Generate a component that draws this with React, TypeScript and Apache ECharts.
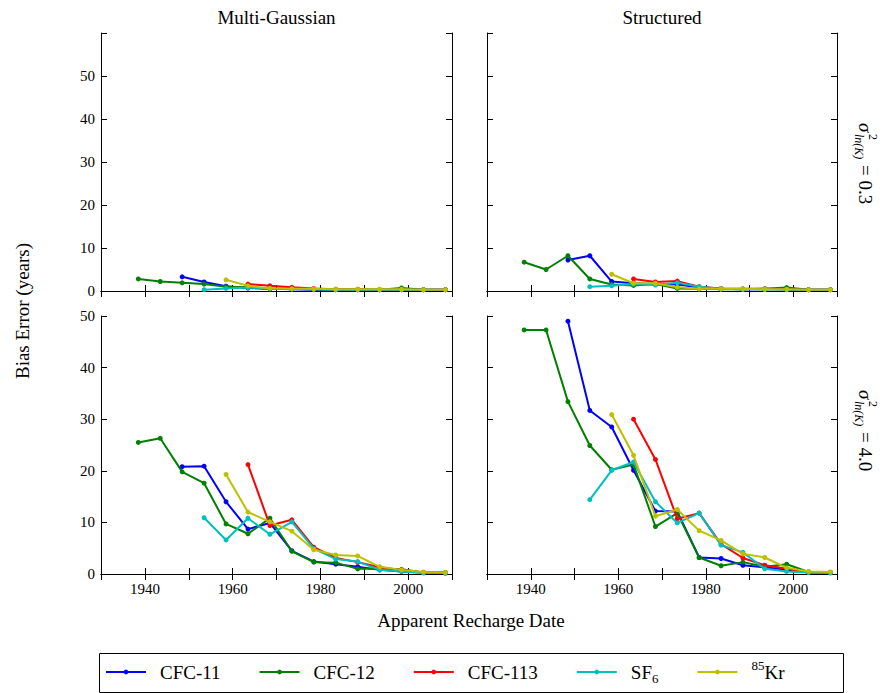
import React, { useEffect, useRef } from "react";
import * as echarts from "echarts";

// Apparent recharge date bins (5-year bin midpoints)
const binYears = [
  1938.5, 1943.5, 1948.5, 1953.5, 1958.5, 1963.5, 1968.5, 1973.5,
  1978.5, 1983.5, 1988.5, 1993.5, 1998.5, 2003.5, 2008.5,
];

const tracerNames = ["CFC-11", "CFC-12", "CFC-113", "SF6", "85Kr"];
const tracerColors = ["#0000ff", "#008000", "#ff0000", "#00bfbf", "#bfbf00"];

const xTickValues = [1940, 1960, 1980, 2000];
const panelTitles = ["Multi-Gaussian", "Structured"];
const varianceLabels = ["0.3", "4.0"];

// Multi-Gaussian field, ln(K) variance 0.3 — bias error (years)
const mgLowCfc11 = [null, null, 3.3, 2.1, 1.1, 0.7, 0.5, 0.4, 0.3, 0.3, 0.3, 0.3, 0.3, 0.3, 0.3];
const mgLowCfc12 = [2.8, 2.2, 1.9, 1.6, 1.0, 0.85, 0.5, 0.5, 0.4, 0.3, 0.3, 0.3, 0.7, 0.3, 0.3];
const mgLowCfc113 = [null, null, null, null, null, 1.6, 1.2, 0.85, 0.6, 0.4, 0.4, 0.3, 0.3, 0.3, 0.3];
const mgLowSf6 = [null, null, null, 0.3, 0.6, 0.8, 0.6, 0.5, 0.4, 0.3, 0.3, 0.3, 0.3, 0.3, 0.3];
const mgLowKr85 = [null, null, null, null, 2.6, 1.2, 0.6, 0.5, 0.5, 0.4, 0.4, 0.4, 0.4, 0.3, 0.3];

// Structured field, ln(K) variance 0.3
const stLowCfc11 = [null, null, 7.2, 8.2, 2.2, 1.8, 1.6, 1.5, 0.85, 0.5, 0.4, 0.4, 0.4, 0.3, 0.3];
const stLowCfc12 = [6.7, 5.0, 8.2, 2.8, 1.5, 1.3, 1.6, 0.6, 0.5, 0.4, 0.4, 0.5, 0.8, 0.3, 0.3];
const stLowCfc113 = [null, null, null, null, null, 2.8, 2.1, 2.3, 1.0, 0.6, 0.5, 0.5, 0.4, 0.3, 0.3];
const stLowSf6 = [null, null, null, 1.0, 1.2, 1.6, 1.4, 1.9, 1.0, 0.5, 0.4, 0.4, 0.3, 0.3, 0.3];
const stLowKr85 = [null, null, null, null, 3.9, 1.8, 1.8, 0.85, 0.5, 0.5, 0.5, 0.4, 0.4, 0.3, 0.3];

// Multi-Gaussian field, ln(K) variance 4.0
const mgHighCfc11 = [null, null, 20.8, 20.9, 14.0, 8.7, 9.9, 4.5, 2.4, 1.9, 1.4, 0.8, 0.5, 0.3, 0.2];
const mgHighCfc12 = [25.5, 26.3, 19.8, 17.6, 9.7, 7.8, 10.8, 4.4, 2.3, 2.2, 1.0, 1.0, 0.9, 0.3, 0.3];
const mgHighCfc113 = [null, null, null, null, null, 21.2, 9.4, 10.5, 5.2, 3.1, 2.3, 1.3, 0.8, 0.3, 0.3];
const mgHighSf6 = [null, null, null, 10.9, 6.6, 10.8, 7.7, 10.1, 4.9, 2.9, 2.4, 0.8, 0.5, 0.2, 0.2];
const mgHighKr85 = [null, null, null, null, 19.3, 12.0, 10.1, 8.3, 4.7, 3.7, 3.5, 1.4, 0.8, 0.4, 0.3];

// Structured field, ln(K) variance 4.0
const stHighCfc11 = [null, null, 49.0, 31.7, 28.5, 20.1, 12.2, 12.1, 3.2, 3.0, 1.7, 1.3, 0.8, 0.3, 0.3];
const stHighCfc12 = [47.3, 47.3, 33.4, 24.9, 20.2, 21.2, 9.2, 11.8, 3.2, 1.6, 2.3, 1.4, 1.9, 0.4, 0.3];
const stHighCfc113 = [null, null, null, null, null, 30.0, 22.2, 10.7, 11.8, 5.8, 3.1, 1.7, 1.0, 0.3, 0.3];
const stHighSf6 = [null, null, null, 14.4, 20.1, 21.7, 14.0, 9.9, 11.8, 5.6, 4.2, 1.0, 0.5, 0.3, 0.2];
const stHighKr85 = [null, null, null, null, 30.9, 23.0, 11.2, 12.5, 8.4, 6.5, 3.9, 3.2, 1.2, 0.5, 0.4];

// Panels in grid order: top-left, top-right, bottom-left, bottom-right
const panelSeries = [
  [mgLowCfc11, mgLowCfc12, mgLowCfc113, mgLowSf6, mgLowKr85],
  [stLowCfc11, stLowCfc12, stLowCfc113, stLowSf6, stLowKr85],
  [mgHighCfc11, mgHighCfc12, mgHighCfc113, mgHighSf6, mgHighKr85],
  [stHighCfc11, stHighCfc12, stHighCfc113, stHighSf6, stHighKr85],
];
const panelYMax = [60, 60, 50, 50];

const FONT = "Liberation Serif";

const gridBoxes = [
  { left: 101, top: 33, width: 351, height: 258 },
  { left: 487, top: 33, width: 350, height: 258 },
  { left: 101, top: 316, width: 351, height: 258 },
  { left: 487, top: 316, width: 350, height: 258 },
];

function buildOption() {
  const tickStyle = { color: "#000", width: 1 };
  const xAxes: any[] = [];
  const yAxes: any[] = [];
  gridBoxes.forEach((_, g) => {
    const showX = g >= 2;
    const showY = g % 2 === 0;
    xAxes.push({
      gridIndex: g,
      type: "value",
      position: "bottom",
      min: 1930,
      max: 2010,
      interval: 10,
      axisLine: { show: true, lineStyle: tickStyle },
      axisTick: { show: true, inside: true, length: 6, lineStyle: tickStyle },
      axisLabel: {
        show: showX,
        fontSize: 15,
        fontFamily: FONT,
        color: "#000",
        margin: 7,
        formatter: (v: number) => (xTickValues.includes(v) ? String(v) : ""),
      },
      splitLine: { show: false },
    });
    yAxes.push({
      gridIndex: g,
      type: "value",
      position: "left",
      min: 0,
      max: panelYMax[g],
      interval: 10,
      axisLine: { show: true, lineStyle: tickStyle },
      axisTick: { show: true, inside: true, length: 6, lineStyle: tickStyle },
      axisLabel: {
        show: showY,
        fontSize: 15,
        fontFamily: FONT,
        color: "#000",
        margin: 6,
        formatter: (v: number) => (v <= 50 ? String(v) : ""),
      },
      splitLine: { show: false },
    });
  });
  // mirrored axes for the ticks on the top and right edges
  gridBoxes.forEach((_, g) => {
    xAxes.push({
      gridIndex: g,
      type: "value",
      position: "top",
      min: 1930,
      max: 2010,
      interval: 10,
      axisLine: { show: true, lineStyle: tickStyle },
      axisTick: { show: true, inside: true, length: 6, lineStyle: tickStyle },
      axisLabel: { show: false },
      splitLine: { show: false },
    });
    yAxes.push({
      gridIndex: g,
      type: "value",
      position: "right",
      min: 0,
      max: panelYMax[g],
      interval: 10,
      axisLine: { show: true, lineStyle: tickStyle },
      axisTick: { show: true, inside: true, length: 6, lineStyle: tickStyle },
      axisLabel: { show: false },
      splitLine: { show: false },
    });
  });

  const series: any[] = [];
  panelSeries.forEach((tracers, g) => {
    tracers.forEach((values, t) => {
      series.push({
        type: "line",
        name: tracerNames[t],
        xAxisIndex: g,
        yAxisIndex: g,
        data: binYears
          .map((yr, i) => [yr, values[i]])
          .filter((p) => p[1] !== null),
        symbol: "circle",
        symbolSize: 5,
        showSymbol: true,
        color: tracerColors[t],
        lineStyle: { width: 2, color: tracerColors[t] },
        itemStyle: { color: tracerColors[t] },
        emphasis: { disabled: true },
        z: 2 + t,
      });
    });
  });

  const sigmaLabel = (cy: number, value: string) => ({
    type: "group",
    x: 865,
    y: cy - 42,
    rotation: -Math.PI / 2,
    children: [
      { type: "text", x: 0, y: 0, style: { text: "σ", fontSize: 19, fontStyle: "italic", fontFamily: FONT, fill: "#000", align: "left", verticalAlign: "middle" } },
      { type: "text", x: 11, y: -8, style: { text: "2", fontSize: 12, fontFamily: FONT, fill: "#000", align: "left", verticalAlign: "middle" } },
      { type: "text", x: 11, y: 6, style: { text: "ln(K)", fontSize: 12, fontStyle: "italic", fontFamily: FONT, fill: "#000", align: "left", verticalAlign: "middle" } },
      { type: "text", x: 42, y: 0, style: { text: "= " + value, fontSize: 19, fontFamily: FONT, fill: "#000", align: "left", verticalAlign: "middle" } },
    ],
  });

  const graphic: any[] = [
    { type: "text", x: 276.5, y: 17, style: { text: panelTitles[0], fontSize: 19, fontFamily: FONT, fill: "#000", align: "center", verticalAlign: "middle" } },
    { type: "text", x: 662, y: 17, style: { text: panelTitles[1], fontSize: 19, fontFamily: FONT, fill: "#000", align: "center", verticalAlign: "middle" } },
    { type: "text", x: 22, y: 311, rotation: Math.PI / 2, style: { text: "Bias Error (years)", fontSize: 19, fontFamily: FONT, fill: "#000", align: "center", verticalAlign: "middle" } },
    { type: "text", x: 471, y: 620, style: { text: "Apparent Recharge Date", fontSize: 19, fontFamily: FONT, fill: "#000", align: "center", verticalAlign: "middle" } },
    sigmaLabel(165, varianceLabels[0]),
    sigmaLabel(432, varianceLabels[1]),
    { type: "rect", shape: { x: 99.5, y: 653.5, width: 744, height: 39 }, style: { fill: "none", stroke: "#000", lineWidth: 1 }, silent: true },
  ];

  return {
    animation: false,
    backgroundColor: "#fff",
    textStyle: { fontFamily: FONT },
    grid: gridBoxes.map((b) => ({ ...b, containLabel: false })),
    xAxis: xAxes,
    yAxis: yAxes,
    legend: {
      data: tracerNames,
      left: 105,
      top: 659,
      padding: 0,
      itemWidth: 40,
      itemHeight: 6,
      itemGap: 38,
      formatter: (name: string) =>
        name === "SF6" ? "SF{sub|6}" : name === "85Kr" ? "{sup|85}Kr" : name,
      textStyle: {
        fontSize: 19,
        fontFamily: FONT,
        color: "#000",
        lineHeight: 26,
        padding: [0, 0, 0, 9],
        rich: {
          sub: { fontSize: 13, lineHeight: 13, verticalAlign: "bottom", fontFamily: FONT, color: "#000" },
          sup: { fontSize: 13, lineHeight: 13, verticalAlign: "top", fontFamily: FONT, color: "#000" },
        },
      },
    },
    graphic,
    series,
  };
}

export default function App() {
  const ref = useRef<HTMLDivElement>(null);
  useEffect(() => {
    if (!ref.current) return;
    const chart = echarts.init(ref.current, undefined, { renderer: "svg" });
    chart.setOption(buildOption() as any);
    return () => chart.dispose();
  }, []);
  return (
    <div
      ref={ref}
      style={{ position: "fixed", left: 0, top: 0, width: 891, height: 693, background: "#fff" }}
    />
  );
}
